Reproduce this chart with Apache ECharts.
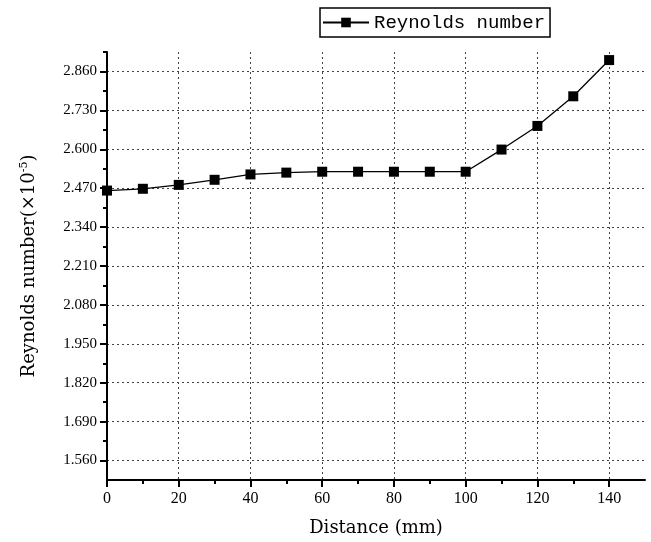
<!DOCTYPE html>
<html>
<head>
<meta charset="utf-8">
<script src="https://cdn.jsdelivr.net/npm/echarts@6/dist/echarts.min.js"></script>
<style>
  html, body { margin: 0; padding: 0; background: #fff; }
  #chart { width: 651px; height: 542px; }
</style>
</head>
<body>
<div id="chart"></div>
<script>
// Distance along the channel (mm) and Reynolds number (×10^-5)
const distance = [0, 10, 20, 30, 40, 50, 60, 70, 80, 90, 100, 110, 120, 130, 140];
const reynolds = [2.462, 2.468, 2.481, 2.498, 2.516, 2.522, 2.525, 2.525, 2.525, 2.525, 2.525, 2.599, 2.678, 2.777, 2.898];

// Axis ticks
const xMajorTicks = [0, 20, 40, 60, 80, 100, 120, 140];
const xMinorTicks = [10, 30, 50, 70, 90, 110, 130];
const yMajorTicks = [1.56, 1.69, 1.82, 1.95, 2.08, 2.21, 2.34, 2.47, 2.6, 2.73, 2.86];
const yMinorTicks = [1.625, 1.755, 1.885, 2.015, 2.145, 2.275, 2.405, 2.535, 2.665, 2.795, 2.925];

const serif = '"Liberation Serif", "DejaVu Serif", serif';
const wideSerif = '"DejaVu Serif", "Liberation Serif", serif';
const gridLine = { show: true, lineStyle: { color: '#444', width: 1, type: [2, 3] } };

const chart = echarts.init(document.getElementById('chart'));
chart.setOption({
  animation: false,
  backgroundColor: '#fff',
  grid: { left: 107, right: 6, top: 52, bottom: 62, containLabel: false },
  legend: {
    left: 320, top: 8,
    padding: [5, 5, 5, 2],
    borderColor: '#000', borderWidth: 1.5,
    itemWidth: 46, itemHeight: 12, itemGap: 0,
    textStyle: { fontFamily: '"Liberation Mono", "DejaVu Sans Mono", monospace', fontSize: 19, color: '#000' },
    data: ['Reynolds number']
  },
  xAxis: [{
    type: 'value', min: 0, max: 150,
    name: 'Distance (mm)', nameLocation: 'middle', nameGap: 39,
    nameTextStyle: { fontFamily: wideSerif, fontSize: 18, color: '#000' },
    axisLine: { show: true, onZero: false, lineStyle: { color: '#000', width: 2 } },
    axisTick: { show: true, length: 7, customValues: xMajorTicks, lineStyle: { color: '#000', width: 2 } },
    axisLabel: { customValues: xMajorTicks, margin: 11, fontFamily: serif, fontSize: 16, color: '#000' },
    splitLine: gridLine
  }, {
    type: 'value', min: 0, max: 150, position: 'bottom',
    axisLine: { show: false },
    axisTick: { show: true, length: 4, customValues: xMinorTicks, lineStyle: { color: '#000', width: 2 } },
    axisLabel: { show: false },
    splitLine: { show: false }
  }],
  yAxis: [{
    type: 'value', min: 1.495, max: 2.925,
    name: '{n|Reynolds number(×10}{s|-5}{n|)}', nameLocation: 'middle', nameGap: 68,
    nameTextStyle: {
      color: '#000',
      rich: {
        n: { fontFamily: wideSerif, fontSize: 18, color: '#000' },
        s: { fontFamily: wideSerif, fontSize: 11, color: '#000', verticalAlign: 'bottom', padding: [0, 0, 9, 0] }
      }
    },
    axisLine: { show: true, onZero: false, lineStyle: { color: '#000', width: 2 } },
    axisTick: { show: true, length: 7, customValues: yMajorTicks, lineStyle: { color: '#000', width: 2 } },
    axisLabel: {
      customValues: yMajorTicks, margin: 10, fontFamily: serif, fontSize: 15, color: '#000',
      formatter: v => v.toFixed(3)
    },
    splitLine: gridLine
  }, {
    type: 'value', min: 1.495, max: 2.925, position: 'left',
    axisLine: { show: false },
    axisTick: { show: true, length: 4, customValues: yMinorTicks, lineStyle: { color: '#000', width: 2 } },
    axisLabel: { show: false },
    splitLine: { show: false }
  }],
  series: [{
    name: 'Reynolds number',
    type: 'line',
    xAxisIndex: 0, yAxisIndex: 0,
    data: distance.map((d, i) => [d, reynolds[i]]),
    symbol: 'rect', symbolSize: 10,
    itemStyle: { color: '#000' },
    lineStyle: { color: '#000', width: 1.3 }
  }]
});
</script>
</body>
</html>
